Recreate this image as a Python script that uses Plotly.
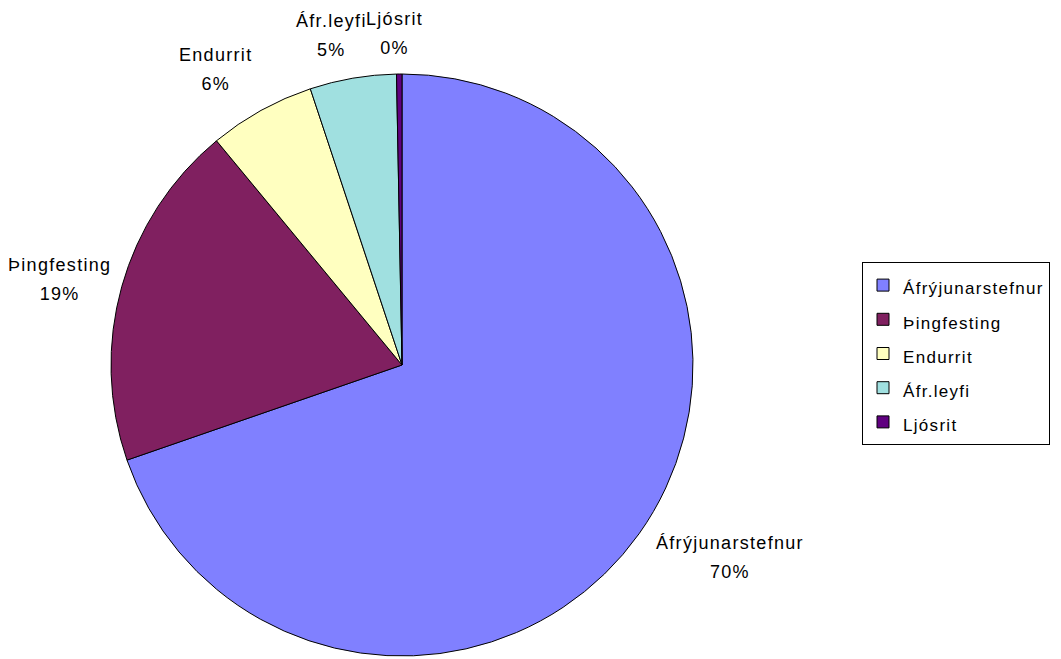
import math
import plotly.graph_objects as go

# ---- data ----
categories = ["Áfrýjunarstefnur", "Þingfesting", "Endurrit", "Áfr.leyfi", "Ljósrit"]
values = [69.7, 19.3, 5.9, 4.8, 0.3]
colors = ["#8080FF", "#802060", "#FFFFC0", "#A0E0E0", "#600080"]

# ---- layout geometry (page body has an 8px margin) ----
OFF = 8
W, H = 1053, 651
cx_px, cy_px, R_px = 402 - OFF, 365 - OFF, 291
FONT = "Liberation Sans, Arial, sans-serif"
FS = 18
SPAN = '<span style="font-size:18px;letter-spacing:1.3px">{}</span>'
LSPAN = '<span style="font-size:17px;letter-spacing:1.3px">{}</span>'

dom_x = [(cx_px - R_px) / W, (cx_px + R_px) / W]
dom_y = [1 - (cy_px + R_px) / H, 1 - (cy_px - R_px) / H]

fig = go.Figure()
fig.add_trace(go.Pie(
    labels=[LSPAN.format(c) for c in categories],
    values=values,
    customdata=categories,
    sort=False,
    direction="clockwise",
    rotation=0,
    marker=dict(colors=colors, line=dict(color="black", width=1)),
    textinfo="none",
    hovertemplate="%{customdata}: %{percent}<extra></extra>",
    domain=dict(x=dom_x, y=dom_y),
))

# labels placed outside each slice, derived from slice angles
total = sum(values)
cum = 0.0
annotations = []
pad = 24
xshift = [10, 11, -16, -10, -4]
yshift = [2, -5, 2, -1, -3]
for i, (lab, v) in enumerate(zip(categories, values)):
    mid = (cum + v / 2) / total * 2 * math.pi
    cum += v
    dx, dy = math.sin(mid), math.cos(mid)  # dy upward
    pct = f"{round(v / total * 100):.0f}%"
    hw = max(len(lab), len(pct)) * 4.7
    hh = 20
    px = cx_px + dx * (R_px + pad) + dx * hw
    py = cy_px - dy * (R_px + pad) - dy * hh
    annotations.append(dict(
        x=px / W, y=1 - py / H, xref="paper", yref="paper",
        text=SPAN.format(lab) + "<br>" + SPAN.format(pct), showarrow=False,
        xanchor="center", yanchor="middle", align="center",
        xshift=xshift[i], yshift=yshift[i],
        font=dict(family=FONT, size=22, color="black"),
    ))

fig.update_layout(
    width=W, height=H,
    margin=dict(l=0, r=0, t=0, b=0),
    paper_bgcolor="white",
    plot_bgcolor="white",
    font=dict(family=FONT, size=FS, color="black"),
    annotations=annotations,
    showlegend=True,
    legend=dict(
        x=(862 - OFF) / W, y=1 - (353.5 - OFF) / H, xanchor="left", yanchor="middle",
        bordercolor="black", borderwidth=1, bgcolor="white",
        font=dict(family=FONT, size=24, color="black"),
        traceorder="normal",
    ),
)

fig.write_html("out.html")
